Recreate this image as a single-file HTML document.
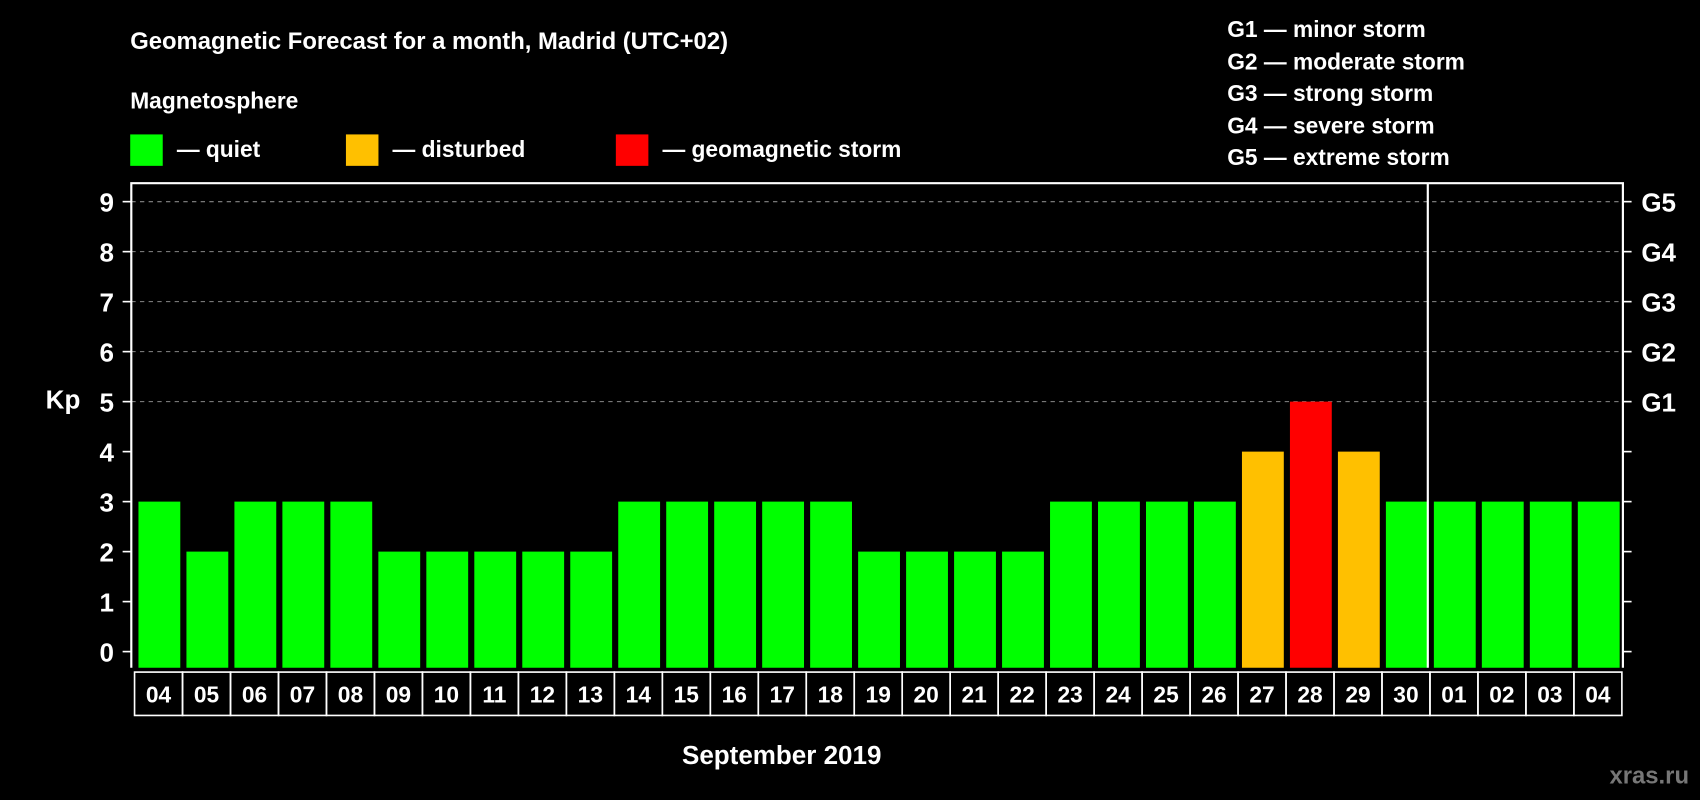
<!DOCTYPE html>
<html><head><meta charset="utf-8"><style>
html,body{margin:0;padding:0;background:#000;}
svg{display:block;font-family:"Liberation Sans",Arial,sans-serif;font-weight:bold;}
</style></head><body>
<svg id="chart" width="1700" height="800" viewBox="0 0 1568 738" xmlns="http://www.w3.org/2000/svg">
<rect width="1568" height="738" fill="#000"/>
<text x="120" y="45" fill="#fff" font-size="22">Geomagnetic Forecast for a month, Madrid (UTC+02)</text>
<text x="120" y="100" fill="#fff" font-size="21">Magnetosphere</text>
<g><rect x="120" y="124" width="30" height="29" fill="#00ff00"/><text x="163" y="145" fill="#fff" font-size="21">— quiet</text></g>
<g><rect x="319" y="124" width="30" height="29" fill="#ffc000"/><text x="362" y="145" fill="#fff" font-size="21">— disturbed</text></g>
<g><rect x="568" y="124" width="30" height="29" fill="#ff0000"/><text x="611" y="145" fill="#fff" font-size="21">— geomagnetic storm</text></g>
<g fill="#fff" font-size="21">
<text x="1132" y="34">G1 — minor storm</text>
<text x="1132" y="64">G2 — moderate storm</text>
<text x="1132" y="93">G3 — strong storm</text>
<text x="1132" y="123">G4 — severe storm</text>
<text x="1132" y="152">G5 — extreme storm</text>
</g>
<text x="58" y="377" fill="#fff" font-size="24" text-anchor="middle">Kp</text>
<text x="721" y="705" fill="#fff" font-size="24" text-anchor="middle">September 2019</text>
<text x="1558" y="723" fill="#777" font-size="22" text-anchor="end">xras.ru</text>
<g id="grid"></g><g id="bars"></g><g id="axes"></g><g id="labels"></g>
</svg>
<script>
const days=["04","05","06","07","08","09","10","11","12","13","14","15","16","17","18","19","20","21","22","23","24","25","26","27","28","29","30","01","02","03","04"];
const kp=[3,2,3,3,3,2,2,2,2,2,3,3,3,3,3,2,2,2,2,3,3,3,3,4,5,4,3,3,3,3,3];
const yTicks=[0,1,2,3,4,5,6,7,8,9];
const gLabels=["G1","G2","G3","G4","G5"];
const NS="http://www.w3.org/2000/svg";
const X0=124,SLOT=44.26,Y0=601.1,UNIT=46.12,TOP=169,BOT=616,LEFT=121,RIGHT=1497;
const y=v=>Y0-v*UNIT;
const x=i=>X0+i*SLOT;
function mk(t,a,p){const e=document.createElementNS(NS,t);for(const k in a)e.setAttribute(k,a[k]);p.appendChild(e);return e;}
const grid=document.getElementById('grid'),bars=document.getElementById('bars'),axes=document.getElementById('axes'),labels=document.getElementById('labels');
yTicks.forEach(v=>{
 if(v>=5){const l=mk('line',{x1:LEFT,x2:RIGHT,y1:y(v),y2:y(v),stroke:'#888','stroke-width':1,'stroke-dasharray':'4,4'},grid);
 
 }
 const t1=mk('line',{x1:LEFT-8,x2:LEFT,y1:y(v),y2:y(v),stroke:'#fff','stroke-width':1.5},axes);
 
 
 const t2=mk('line',{x1:RIGHT,x2:RIGHT+8,y1:y(v),y2:y(v),stroke:'#fff','stroke-width':1.5},axes);
 
 
 const tx=mk('text',{x:105,y:y(v)+9,fill:'#fff','font-size':24,'text-anchor':'end'},axes);tx.textContent=v;
 
 
});
gLabels.forEach((g,i)=>{const tx=mk('text',{x:1514,y:y(5+i)+9,fill:'#fff','font-size':24},axes);tx.textContent=g;
 
 });
kp.forEach((v,i)=>{
 const c=v>=5?'#ff0000':(v>=4?'#ffc000':'#00ff00');
 const r=mk('rect',{x:x(i)+3.6,y:y(v),width:38.6,height:BOT-y(v),fill:c},bars);
 
 
 const b=mk('rect',{x:x(i),y:620,width:SLOT,height:40,fill:'none',stroke:'#fff','stroke-width':1.5},labels);
 
 
 const t=mk('text',{x:x(i)+SLOT/2,y:648,fill:'#fff','font-size':21,'text-anchor':'middle'},labels);t.textContent=days[i];
 
 
});
const fr=mk('path',{d:`M${LEFT},${BOT} V${TOP} H${RIGHT} V${BOT}`,fill:'none',stroke:'#fff','stroke-width':2},axes);


const mi=days.indexOf("01");
const ml=mk('line',{x1:x(mi)-2,x2:x(mi)-2,y1:TOP,y2:BOT,stroke:'#fff','stroke-width':2},axes);


</script>
</body></html>
